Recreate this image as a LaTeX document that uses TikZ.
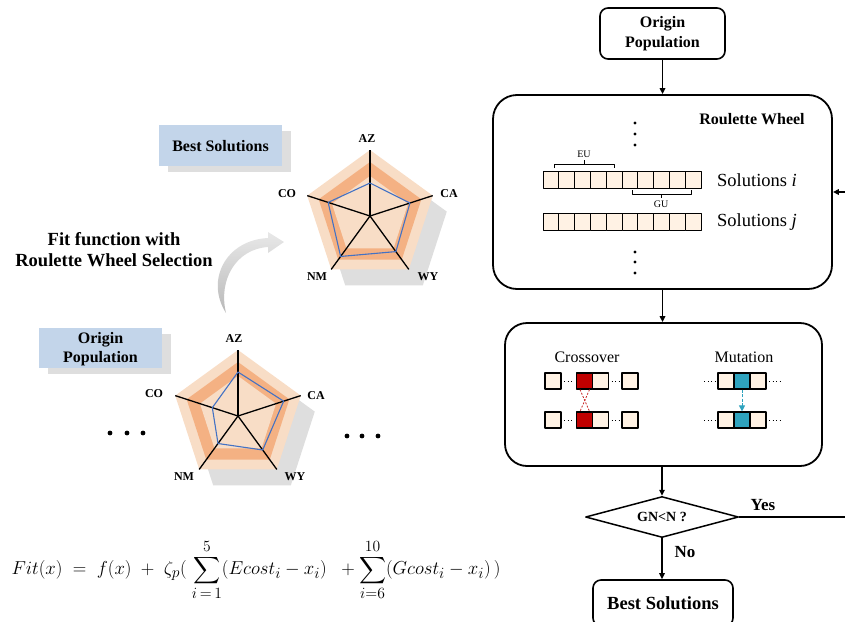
\documentclass[tikz,border=0pt]{standalone}
\usepackage{amsmath}
\usepackage{exscale}
\usepackage{graphicx}
\usepackage{fontspec}
\setmainfont{Liberation Serif}
\usetikzlibrary{arrows.meta,shapes.geometric,calc}
\definecolor{peachL}{HTML}{F8DDC6}
\definecolor{peachD}{HTML}{F4B183}
\definecolor{shadowG}{HTML}{DEDEDE}
\definecolor{lblue}{HTML}{C3D5EA}
\definecolor{cream}{HTML}{FFF2E4}
\definecolor{cred}{HTML}{C00000}
\definecolor{tealc}{HTML}{2FA3BE}
\definecolor{rblue}{HTML}{4472C4}
\newcommand{\myradar}[7]{%
  \begin{scope}[shift={(#1,#2)}]
    \fill[shadowG,shift={(14,16)}] (-90:66) -- (-18:66) -- (54:66) -- (126:66) -- (198:66) -- cycle;
    \fill[peachL] (-90:66) -- (-18:66) -- (54:66) -- (126:66) -- (198:66) -- cycle;
    \fill[peachD] (-90:54) -- (-18:54) -- (54:54) -- (126:54) -- (198:54) -- cycle;
    \fill[peachL] (-90:40) -- (-18:40) -- (54:40) -- (126:40) -- (198:40) -- cycle;
    \foreach \a in {-90,-18,54,126,198} \draw[line width=1.3pt] (0,0) -- (\a:66);
    \draw[rblue,line width=1.1pt] (-90:#3) -- (-18:#4) -- (54:#5) -- (126:#6) -- (198:#7) -- cycle;
  \end{scope}}
\begin{document}
\begin{tikzpicture}[x=1pt,y=-1pt,line join=round,
  arr/.style={-{Triangle[length=6pt,width=5.5pt]},line width=1.5pt},
  bigbox/.style={draw,line width=1.8pt,rounded corners=24pt,inner sep=0pt},
  smallbox/.style={draw,line width=1.6pt,rounded corners=8pt,inner sep=0pt,align=center},
  bt/.style={font=\fontsize{16}{19.5}\selectfont\bfseries,align=center,inner sep=0pt},
  rt/.style={font=\fontsize{16}{19}\selectfont,inner sep=0pt},
  axl/.style={font=\fontsize{12}{14}\selectfont\bfseries,inner sep=0pt},
  cell/.style={draw,line width=1pt,minimum width=15.8pt,minimum height=17pt,inner sep=0pt,fill=cream},
  sq/.style={draw,line width=1.2pt,minimum width=16pt,minimum height=16pt,inner sep=0pt,fill=cream},
  dotl/.style={line width=1pt,dash pattern=on 0.9pt off 2.6pt},
  brk/.style={line width=0.9pt}]
\useasboundingbox (0,0) rectangle (845,621);

% ---------- left: radar charts ----------
\myradar{370}{216}{33}{42}{44}{50}{44}
\node[axl] (azA) at (367,139) {AZ};
\node[axl] (caA) at (449,194) {CA};
\node[axl] (wyA) at (428,277) {WY};
\node[axl] (nmA) at (317,277) {NM};
\node[axl] (coA) at (287,194) {CO};

\myradar{238}{416}{44}{48}{42}{34}{27}
\node[axl] (azB) at (234,339) {AZ};
\node[axl] (caB) at (316,396) {CA};
\node[axl] (wyB) at (295,477) {WY};
\node[axl] (nmB) at (184,477) {NM};
\node[axl] (coB) at (154,394) {CO};

% label boxes
\fill[shadowG] (168,131) rectangle (291,172);
\fill[lblue] (159,125) rectangle (282,166);
\node[bt] (bsl) at (220.5,146) {Best Solutions};
\fill[shadowG] (48,334) rectangle (171,374);
\fill[lblue] (39,328) rectangle (162,368);
\node[bt] (opl) at (100.5,349) {Origin\\Population};

% dots
\foreach \x in {110,127,143} \fill (\x,433) circle (2.4);
\foreach \x in {347,362,378} \fill (\x,436) circle (2.4);

% curved arrow
\shade[top color=gray!18,bottom color=gray!55] (226,313) .. controls (205,280) and (226,240) .. (268,238)
  -- (268,232) -- (284,242) -- (268,253) -- (268,247)
  .. controls (236,249) and (218,280) .. (226,313) -- cycle;

\node[font=\fontsize{18.5}{21}\selectfont\bfseries,align=center,inner sep=0pt] (fitl) at (114,250) {Fit function with\\Roulette Wheel Selection};

% formula
\node[font=\fontsize{19}{22}\selectfont,inner sep=0pt] (fx) at (256,570)
  {\resizebox{489pt}{!}{$\displaystyle Fit(x)\;=\;f(x)\;+\;\zeta_p(\;\sum_{i\,=\,1}^{5}(Ecost_i-x_i)\;\;+\sum_{i=6}^{10}(Gcost_i-x_i)\,)$}};

% ---------- right: flowchart ----------
\node[smallbox,bt,minimum width=125pt,minimum height=51pt] (orig) at (662.5,33.5) {Origin\\Population};
\node[bigbox,minimum width=339pt,minimum height=194pt] (rw) at (662.5,192) {};
\node[bigbox,rounded corners=22pt,minimum width=317pt,minimum height=143pt] (cm) at (663.5,394.5) {};
\node[diamond,draw,line width=1.5pt,aspect=3.7,minimum width=153pt,minimum height=41pt,inner sep=0pt,font=\fontsize{14}{16}\selectfont\bfseries] (dm) at (662,517) {GN<N ?};
\node[smallbox,font=\fontsize{18.5}{21}\selectfont\bfseries,minimum width=140pt,minimum height=46pt] (best) at (663,603) {Best Solutions};

\draw[arr] (orig.south) -- (orig.south |- rw.north);
\draw[arr] (rw.south) -- (rw.south |- cm.north);
\draw[arr] (662,466) -- (dm.north);
\draw[arr] (dm.south) -- (dm.south |- best.north);
\draw[arr] (dm.east) -- ++(110,0) |- (rw.east);
\node[font=\fontsize{17}{19}\selectfont\bfseries,inner sep=0pt] (yes) at (763,505) {Yes};
\node[font=\fontsize{17}{19}\selectfont\bfseries,inner sep=0pt] (no) at (685,552) {No};

% roulette content
\node[bt] (rwt) at (752,119) {Roulette Wheel};
\foreach \y in {123,134,145,252,262,273} \fill (635,\y) circle (1.6);
\foreach \k in {0,...,9} {
  \node[cell] (si\k) at (550.9+15.8*\k,179.5) {};
  \node[cell] (sj\k) at (550.9+15.8*\k,222) {};
}
\node[rt,font=\fontsize{18.5}{21}\selectfont,anchor=west] (soli) at (717,180.5) {Solutions \textit{i}};
\node[rt,font=\fontsize{18.5}{21}\selectfont,anchor=west] (solj) at (717,222) {Solutions \textit{j}};
\draw[brk] (554,168) -- (554,164) -- (614,164) -- (614,168);
\draw[brk] (584,164) -- (584,160);
\node[font=\fontsize{10}{12}\selectfont,inner sep=0pt] (eu) at (584,154) {EU};
\draw[brk] (632,190) -- (632,194) -- (691,194) -- (691,190);
\draw[brk] (661,194) -- (661,198);
\node[font=\fontsize{10}{12}\selectfont,inner sep=0pt] (gu) at (661,204.5) {GU};

% crossover / mutation content
\node[rt] (cot) at (587,357) {Crossover};
\node[rt] (mut) at (744,357) {Mutation};
\foreach \r/\y in {1/381,2/420} {
  \node[sq] (ca\r) at (553,\y) {};
  \node[sq,fill=cred] (cr\r) at (584.5,\y) {};
  \node[sq] (cb\r) at (600.5,\y) {};
  \node[sq] (cc\r) at (630,\y) {};
  \draw[dotl] ($(ca\r.east)+(2.5,0)$) -- ($(cr\r.west)+(-1.5,0)$);
  \draw[dotl] ($(cb\r.east)+(2.5,0)$) -- ($(cc\r.west)+(-1.5,0)$);
  \node[sq] (ma\r) at (726,\y) {};
  \node[sq,fill=tealc] (mt\r) at (742,\y) {};
  \node[sq] (mb\r) at (758,\y) {};
  \draw[dotl] ($(ma\r.west)+(-13,0)$) -- ($(ma\r.west)+(-1.5,0)$);
  \draw[dotl] ($(mb\r.east)+(2.5,0)$) -- ($(mb\r.east)+(14,0)$);
}
\draw[cred!85,line width=0.8pt,dash pattern=on 2pt off 1.5pt] ($(cr1.south)+(-4.5,0)$) -- ($(cr2.north)+(5,0)$);
\draw[cred!85,line width=0.8pt,dash pattern=on 2pt off 1.5pt] ($(cr1.south)+(5,0)$) -- ($(cr2.north)+(-4.5,0)$);
\draw[tealc,line width=1pt,dash pattern=on 3pt off 1.5pt,-{Triangle[length=6pt,width=6pt]}] (mt1.south) -- (mt2.north);
\end{tikzpicture}
\end{document}
